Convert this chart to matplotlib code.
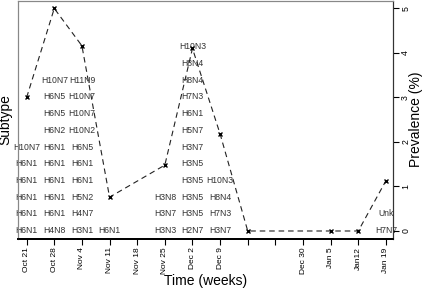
import matplotlib
matplotlib.use("Agg")
import matplotlib.pyplot as plt

plt.rcParams['font.family'] = ['Liberation Sans', 'DejaVu Sans']

# === weekly prevalence (week index from Oct 21)
week_labels = ["Oct 21", "Oct 28", "Nov 4", "Nov 11", "Nov 18", "Nov 25", "Dec 2",
               "Dec 9", "", "", "Dec 30", "Jan 5", "Jan12", "Jan 19"]
prev_weeks = [0, 1, 2, 3, 5, 6, 7, 8, 11, 12, 13]
prevalence = [3.0, 5.0, 4.16, 0.76, 1.48, 4.1, 2.18, 0.0, 0.0, 0.0, 1.13]

# === subtypes found each week, bottom to top
subtypes = {
    0: ["H6N1", "H6N1", "H6N1", "H6N1", "H6N1", "H10N7"],
    1: ["H4N8", "H6N1", "H6N1", "H6N1", "H6N1", "H6N1", "H6N2", "H6N5", "H6N5", "H10N7"],
    2: ["H3N1", "H4N7", "H5N2", "H6N1", "H6N1", "H6N5", "H10N2", "H10N7", "H10N7", "H11N9"],
    3: ["H6N1"],
    5: ["H3N3", "H3N7", "H3N8"],
    6: ["H2N7", "H3N5", "H3N5", "H3N5", "H3N5", "H3N7", "H5N7", "H6N1", "H7N3",
        "H8N4", "H8N4", "H10N3"],
    7: ["H3N7", "H7N3", "H8N4", "H10N3"],
    13: ["H7N7", "Unk"],
}

fig = plt.figure(figsize=(4.27, 2.89), dpi=100)
ax = fig.add_axes([0.042, 0.173, 0.878, 0.824])
ax2 = ax.twinx()

for wk, names in subtypes.items():
    for row, name in enumerate(names):
        ax.text(wk, row, name, ha='center', va='center', fontsize=6.2, color='#333333', zorder=1)

ax.set_xlim(-0.315, 13.25)
ax.set_ylim(-0.5, 13.75)
ax.set_yticks([])
ax.set_xticks(range(len(week_labels)))
ax.set_xticklabels(week_labels, rotation=90, fontsize=6)
ax.tick_params(axis='x', length=4, width=0.8, pad=2)

ax2.plot(prev_weeks, prevalence, linestyle=(0, (5, 3.5)), color='#222222', linewidth=0.8,
         marker='x', markersize=3, markeredgewidth=1.0, markeredgecolor='black')
ax2.set_ylim(-0.18, 5.17)
ax2.set_yticks([0, 1, 2, 3, 4, 5])
ax2.set_yticklabels(["0", "1", "2", "3", "4", "5"], rotation=90, va='center', fontsize=6.3)
ax2.tick_params(axis='y', length=4, width=0.8, pad=2)

# axis titles placed by hand so they fit the small canvas
fig.text(0.481, 0.029, "Time (weeks)", ha='center', va='center', fontsize=10)
fig.text(0.013, 0.588, "Subtype", ha='center', va='center', rotation=90, fontsize=10)
fig.text(0.975, 0.588, "Prevalence (%)", ha='center', va='center', rotation=90, fontsize=10)

for a in (ax, ax2):
    a.spines['left'].set_color('#888888')
    a.spines['top'].set_color('#888888')
    a.spines['right'].set_color('#333333')
    a.spines['bottom'].set_linewidth(1.3)
    a.spines['bottom'].set_color('black')
    a.spines['left'].set_linewidth(0.8)
    a.spines['top'].set_linewidth(0.8)
    a.spines['right'].set_linewidth(0.8)

fig.savefig("out.png", dpi=100)
